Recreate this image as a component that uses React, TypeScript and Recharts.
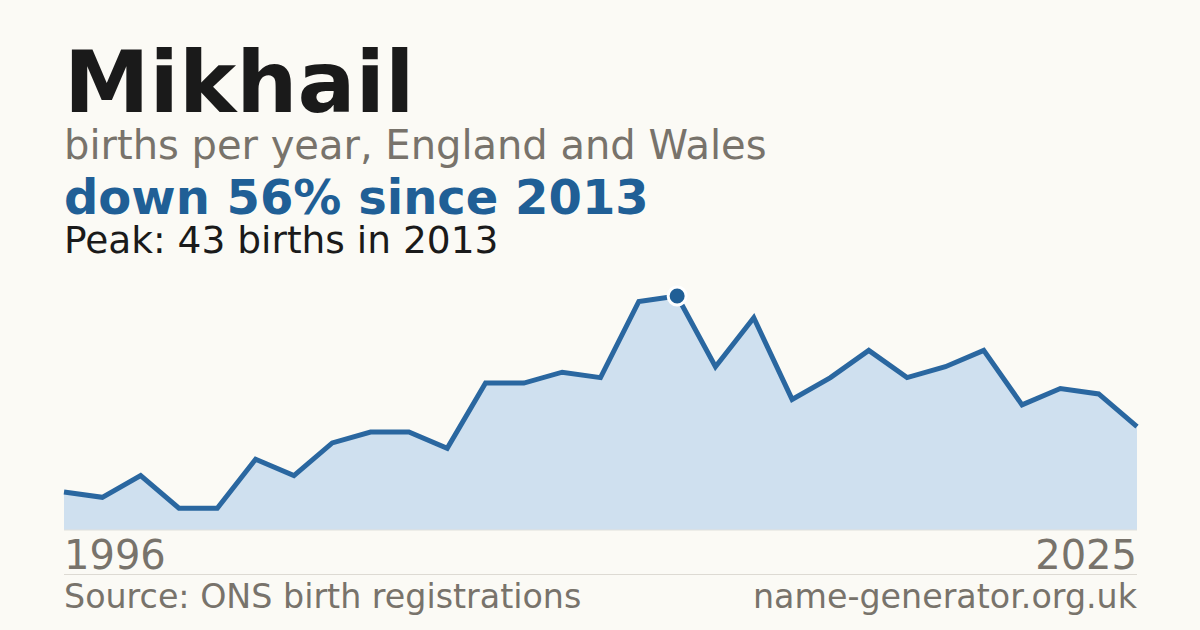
import React from "react";
import { AreaChart, Area, XAxis, YAxis, ReferenceDot } from "recharts";

const years = [
  1997, 1998, 1999, 2000, 2001, 2002, 2003, 2004, 2005, 2006, 2007, 2008, 2009, 2010,
  2011, 2012, 2013, 2014, 2015, 2016, 2017, 2018, 2019, 2020, 2021, 2022, 2023, 2024, 2025,
];
const births = [
  7, 6, 10, 4, 4, 13, 10, 16, 18, 18, 15, 27, 27, 29, 28, 42, 43, 30, 39, 24, 28, 33, 28, 30,
  33, 23, 26, 25, 19,
];
const tickLabels = ["1996", "2025"];
const peakYear = 2013;
const peakValue = 43;

const data = years.map((year, i) => ({ year, births: births[i] }));

const FONT = "'DejaVu Sans', Verdana, sans-serif";
const BLUE = "#205f96";
const GREY = "#78736b";

const Tick = (props: any) => {
  const { x, y, index } = props;
  const first = index === 0;
  return (
    <text
      x={x}
      y={y}
      dy={39}
      textAnchor={first ? "start" : "end"}
      fontFamily={FONT}
      fontSize={40}
      fill={GREY}
    >
      {tickLabels[first ? 0 : 1]}
    </text>
  );
};

export default function App() {
  return (
    <div
      style={{
        position: "absolute",
        left: 0,
        top: 0,
        width: 1200,
        height: 630,
        background: "#fbfaf5",
        overflow: "hidden",
      }}
    >
      <svg
        width={1200}
        height={630}
        style={{ position: "absolute", left: 0, top: 0 }}
        fontFamily={FONT}
      >
        <text x={64} y={112} fontSize={86} fontWeight="bold" fill="#1a1a1a">
          Mikhail
        </text>
        <text x={64} y={159} fontSize={40} fill={GREY}>
          births per year, England and Wales
        </text>
        <text x={64} y={214} fontSize={48} fontWeight="bold" fill={BLUE}>
          down 56% since 2013
        </text>
        <text x={64} y={253} fontSize={37.5} fill="#1a1a1a">
          Peak: 43 births in 2013
        </text>
        <line x1={64} x2={1137} y1={574.5} y2={574.5} stroke="#dddad3" strokeWidth={1} />
        <text x={64} y={608} fontSize={33.3} fill={GREY}>
          Source: ONS birth registrations
        </text>
        <text x={1137} y={608} fontSize={33.3} fill={GREY} textAnchor="end">
          name-generator.org.uk
        </text>
      </svg>
      <div style={{ position: "absolute", left: 0, top: 0 }}>
        <AreaChart
          width={1200}
          height={630}
          data={data}
          margin={{ top: 296, right: 63, bottom: 30, left: 64 }}
        >
          <XAxis
            dataKey="year"
            type="number"
            domain={["dataMin", "dataMax"]}
            ticks={[years[0], years[years.length - 1]]}
            tick={<Tick />}
            tickLine={false}
            tickSize={0}
            tickMargin={0}
            height={70}
            axisLine={{ stroke: "#e0e0dc", strokeWidth: 1 }}
          />
          <YAxis hide domain={[0, peakValue]} />
          <Area
            type="linear"
            dataKey="births"
            stroke="#2a67a0"
            strokeWidth={5}
            fill="#cfe0ef"
            fillOpacity={1}
            isAnimationActive={false}
            dot={false}
            activeDot={false}
          />
          <ReferenceDot
            x={peakYear}
            y={peakValue}
            r={9}
            fill={BLUE}
            stroke="#ffffff"
            strokeWidth={3}
            ifOverflow="visible"
          />
        </AreaChart>
      </div>
    </div>
  );
}
